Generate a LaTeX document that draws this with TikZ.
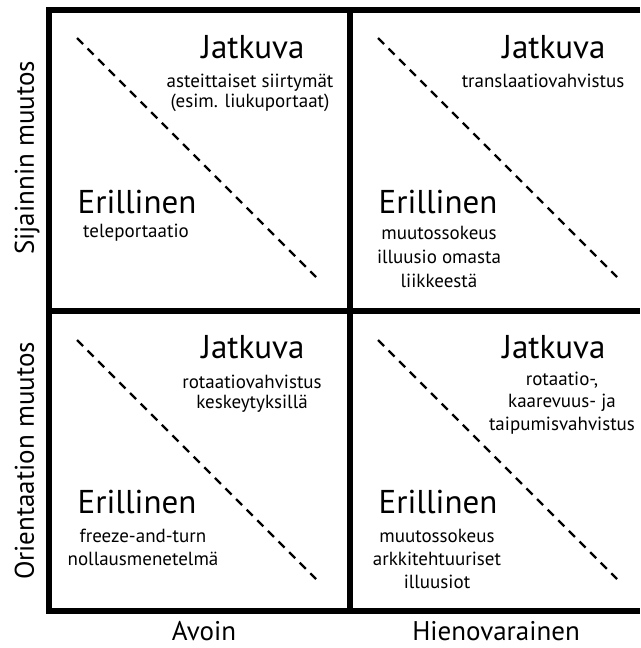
\documentclass[tikz,border=0pt]{standalone}
\usepackage{fontspec}
\setmainfont{PT Sans}
\usetikzlibrary{positioning}

\begin{document}
\begin{tikzpicture}[
        x=1pt, y=-1pt,
        frame/.style = {line width=6pt, line join=miter},
        diag/.style = {line width=2.4pt, dash pattern=on 8.5pt off 6.5pt},
        head/.style = {font=\fontsize{33}{36}\selectfont, anchor=base, inner sep=0pt},
        desc/.style = {font=\fontsize{19}{23}\selectfont, align=center, anchor=base, inner sep=0pt},
        axis/.style = {font=\fontsize{27}{30}\selectfont, anchor=base, inner sep=0pt}]
      \useasboundingbox (0,0) rectangle (640,648);
      % grid
      \draw[frame] (640,10) -- (49,10) -- (49,611) -- (640,611);
      \draw[frame] (350,10) -- (350,611);
      \draw[frame] (49,311) -- (640,311);
      \foreach \dx/\dy in {0/0, 301/0, 0/302, 301/302}
        \draw[diag] (77+\dx,38+\dy) -- (316+\dx,277+\dy);
      % axis labels
      \node[axis, rotate=90] (sijainti) at (34,158) {Sijainnin muutos};
      \node[axis, rotate=90] (orient) at (34,461) {Orientaation muutos};
      \node[axis] (avoin) at (204,640) {Avoin};
      \node[axis] (hieno) at (496,640) {Hienovarainen};
      % top left
      \node[head] (jatk1) at (253,58) {Jatkuva};
      \node[desc, font=\fontsize{19}{20}\selectfont] (jdesc1) at (250,107) {asteittaiset siirtymät\\(esim. liukuportaat)};
      \node[head] (eril1) at (137,213) {Erillinen};
      \node[desc] (edesc1) at (136,237) {teleportaatio};
      % top right
      \node[head] (jatk2) at (554,58) {Jatkuva};
      \node[desc] (jdesc2) at (543,87) {translaatiovahvistus};
      \node[head] (eril2) at (438,213) {Erillinen};
      \node[desc, font=\fontsize{19}{24}\selectfont] (edesc2) at (439,287) {muutossokeus\\illuusio omasta\\liikkeestä};
      % bottom left
      \node[head] (jatk3) at (253,358) {Jatkuva};
      \node[desc, font=\fontsize{19}{20}\selectfont] (jdesc3) at (252,408) {rotaatiovahvistus\\keskeytyksillä};
      \node[head] (eril3) at (137,513) {Erillinen};
      \node[desc] (edesc3) at (143,565) {freeze-and-turn\\nollausmenetelmä};
      % bottom right
      \node[head] (jatk4) at (554,358) {Jatkuva};
      \node[desc, font=\fontsize{19}{22.5}\selectfont] (jdesc4) at (562,430) {rotaatio-,\\kaarevuus- ja\\taipumisvahvistus};
      \node[head] (eril4) at (438,513) {Erillinen};
      \node[desc] (edesc4) at (437,588) {muutossokeus\\arkkitehtuuriset\\illuusiot};
\end{tikzpicture}
\end{document}
